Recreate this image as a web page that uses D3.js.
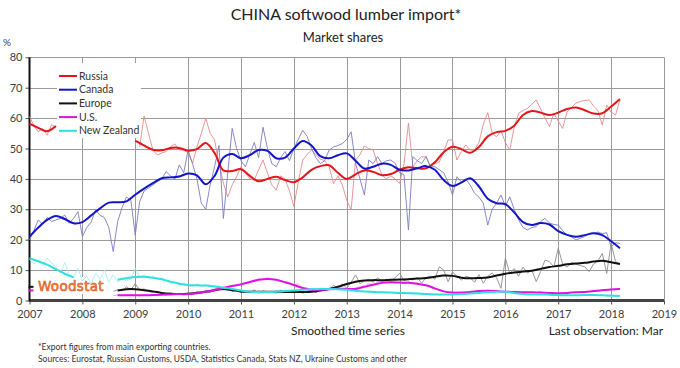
<!DOCTYPE html>
<html>
<head>
<meta charset="utf-8">
<script src="https://cdn.jsdelivr.net/npm/d3@7"></script>
<style>
  body { margin: 0; background: #fff; }
  svg { display: block; font-family: Lato, 'Open Sans', sans-serif; }
</style>
</head>
<body>
<svg width="680" height="368"></svg>
<script>
const _ = null;

const names = ['Russia', 'Canada', 'Europe', 'U.S.', 'New Zealand'];
const xTicks = [2007, 2008, 2009, 2010, 2011, 2012, 2013, 2014, 2015, 2016, 2017, 2018, 2019];
const yTicks = [0, 10, 20, 30, 40, 50, 60, 70, 80];

// smoothed series, one value every 2 months from Jan 2007 to Mar 2018
const russiaSmooth = [
  58.2, 56.8, 55.7, 57.4, _, _,
  _, _, _, _, _, _,
  52.6, 51.0, 49.6, 49.4, 50.2, 50.2,
  49.3, 49.8, 51.8, 48.5, 42.8, 42.6,
  43.2, 41.0, 39.2, 40.0, 40.7, 39.6,
  38.9, 40.5, 43.0, 44.2, 44.5, 42.0,
  40.0, 41.5, 42.8, 42.3, 41.2, 41.6,
  43.0, 43.8, 43.5, 43.5, 45.5, 48.8,
  50.6, 49.8, 48.6, 50.5, 54.0, 55.4,
  55.8, 57.5, 61.0, 62.3, 61.8, 61.0,
  61.8, 63.0, 63.5, 62.6, 61.5, 61.6,
  63.8, 66.3
];
const canadaSmooth = [
  21.0, 24.0, 26.5, 27.8, 26.8, 25.4,
  25.8, 28.0, 30.3, 32.2, 32.3, 32.6,
  34.8, 36.8, 38.6, 40.2, 40.5, 40.8,
  41.8, 41.2, 38.2, 41.0, 47.0, 48.2,
  46.8, 47.8, 49.5, 49.2, 46.8, 47.0,
  50.0, 52.5, 51.0, 47.5, 46.8, 47.8,
  48.4, 46.0, 43.4, 44.0, 45.0, 44.6,
  43.0, 42.8, 43.5, 44.2, 43.0, 39.6,
  37.7, 38.8, 40.2, 37.5, 33.5, 32.0,
  31.7, 29.0, 25.8, 24.8, 25.5, 25.0,
  22.8, 21.6, 21.0, 21.5, 22.1, 21.5,
  19.5, 17.2
];
const europeSmooth = [
  4.5, _, _, _, _, _,
  _, _, _, _, 3.3, 3.7,
  3.7, 3.4, 3.0, 2.5, 2.2, 2.1,
  2.2, 2.5, 2.9, 3.4, 3.8, 3.4,
  3.0, 2.9, 2.9, 2.9, 2.9, 2.8,
  2.8, 2.8, 2.9, 3.3, 3.8, 4.5,
  5.4, 6.2, 6.6, 6.7, 6.7, 6.8,
  6.9, 7.0, 7.2, 7.4, 7.8, 8.2,
  8.1, 7.5, 7.3, 7.4, 7.6, 8.2,
  8.8, 9.2, 9.5, 9.8, 10.4, 11.0,
  11.4, 11.9, 12.2, 12.4, 12.8, 13.1,
  12.6, 12.0
];
const usSmooth = [
  3.3, _, _, _, _, _,
  _, _, _, _, 1.7, 1.7,
  1.7, 1.7, 1.8, 1.9, 2.0, 2.1,
  2.1, 2.4, 2.9, 3.4, 4.1, 4.8,
  5.3, 6.1, 6.8, 7.1, 6.8, 6.0,
  5.1, 4.1, 3.5, 3.5, 3.7, 3.9,
  3.8, 3.8, 4.5, 5.2, 5.8, 6.0,
  5.9, 5.8, 5.5, 5.0, 4.0, 3.0,
  2.6, 2.6, 2.8, 3.1, 3.2, 3.1,
  2.9, 2.8, 2.7, 2.7, 2.6, 2.5,
  2.4, 2.5, 2.7, 2.8, 3.1, 3.4,
  3.6, 3.8
];
const nzSmooth = [
  13.9, 12.9, 11.8, 10.3, 8.8, 7.6,
  _, _, _, _, 6.8, 7.3,
  7.7, 7.8, 7.5, 7.0, 6.2, 5.5,
  5.1, 5.0, 4.9, 4.6, 4.2, 3.8,
  3.3, 2.9, 2.8, 2.8, 2.9, 3.1,
  3.3, 3.5, 3.7, 3.8, 3.8, 3.7,
  3.5, 3.2, 3.0, 2.8, 2.7, 2.6,
  2.5, 2.4, 2.3, 2.1, 2.0, 2.0,
  2.0, 2.1, 2.3, 2.5, 2.7, 2.9,
  2.9, 2.5, 2.1, 2.0, 2.0, 1.9,
  1.8, 1.7, 1.7, 1.8, 1.8, 1.7,
  1.6, 1.5
];

// monthly observations, Jan 2007 to Mar 2018
const russiaRaw = [
  60.5, 57.5, 55.5, 56.5, 54.4, 57.8, 57.0, _, _, _, _, _,
  _, _, _, _, _, _, _, _, _, _, _, _,
  _, 50.5, 60.7, 55, 49.5, 47.9, 48.5, 49, 50.6, 51.5, 49.5, 49.5,
  48.5, 45.1, 50.5, 55, 59.9, 55, 52.8, 45, 38.6, 34.1, 38, 40.7,
  44, 42, 40, 39.6, 43, 46.2, 42, 38, 36.3, 41, 40, 36,
  30.9, 39, 46.2, 48, 49.5, 48, 46.5, 46, 44, 38.5, 41, 38,
  33, 29.8, 46.2, 48, 50.8, 50, 49.5, 45, 41.3, 40, 41, 40,
  38.5, 45, 58.3, 44, 46, 47.3, 47.3, 44, 45, 45.5, 49, 52.8,
  52.8, 46.2, 49, 51.2, 49.5, 49.5, 52, 58, 61.8, 55, 53.9, 55.8,
  52, 49.5, 57, 61.6, 62.5, 63.2, 64.5, 66, 63, 60, 57.2, 61.6,
  59, 56.6, 62, 63.5, 64.9, 65.5, 65.8, 66, 64, 62.5, 57.7, 64.3,
  62, 61, 66
];
const canadaRaw = [
  19.9, 23, 26.5, 25, 27.3, 26, 26.5, 27, 28.1, 25.4, 27, 29.2,
  21, 24, 25.8, 29.8, 28, 27.3, 24, 16.1, 26, 30.5, 34.1, 33,
  21.5, 32.5, 36, 37, 38, 39.1, 40, 42.4, 41, 40, 44.6, 42,
  49.5, 45, 40, 32, 30, 38, 44, 51, 27, 42, 56.6, 50,
  46, 44, 48, 52, 47, 57, 50, 45, 44, 47, 49, 46,
  50, 53, 56, 54, 50, 47, 45, 46, 49.5, 50.5, 51, 51.6,
  53, 55.5, 45.1, 40, 34.7, 46.2, 45, 47.3, 45, 46, 46.2, 45.1,
  42, 41.3, 23.2, 47.3, 46, 45, 47.3, 44, 44, 43, 42, 39,
  34.7, 40.7, 39, 40, 38, 35.3, 34, 32, 24.8, 30, 32, 34.7,
  31, 34.1, 30, 26.5, 24, 23.2, 24, 24.3, 26, 27, 25.5, 25,
  24.8, 23, 21.5, 21, 19.9, 20.5, 21, 22, 22.1, 22.5, 22, 22.3,
  17.7, 19, 18.8
];
const europeRaw = [
  _, _, _, _, _, _, _, _, _, _, _, _,
  _, _, _, _, _, _, _, 3.0, 3.5, 3.2, 4.5, 3.5,
  5.5, 3.5, 3.8, 3.0, 2.6, 3.0, 2.2, 1.8, 2.5, 2.0, 2.4, 2.0,
  2.5, 2.0, 3.0, 2.6, 3.4, 2.5, 3.8, 4.8, 3.5, 4.2, 3.0, 3.6,
  2.5, 3.2, 2.6, 3.5, 2.4, 3.2, 2.8, 3.0, 2.4, 3.4, 2.6, 3.0,
  2.5, 3.2, 2.4, 3.0, 3.5, 2.6, 3.4, 4.0, 3.6, 5.0, 4.2, 5.5,
  4.0, 6.0, 8.4, 5.5, 6.5, 7.0, 6.0, 7.5, 6.2, 7.0, 6.4, 7.5,
  9.0, 6.5, 7.0, 6.8, 7.5, 5.7, 7.5, 8.0, 7.0, 11.1, 10.0, 6.2,
  9.4, 8.0, 6.7, 8.0, 7.5, 6.0, 8.5, 5.7, 8.0, 9.0, 7.5, 4.0,
  13.9, 9.0, 10.5, 8.0, 11.0, 9.0, 10.0, 6.2, 9.5, 13.3, 12.8, 11.0,
  17.2, 12.0, 11.0, 12.5, 12.0, 11.5, 11.1, 9.5, 12.0, 13.0, 15.5, 8.9,
  18.8, 12.8, 12.0
];
const usRaw = [
  _, _, _, _, _, _, _, _, _, _, _, _,
  _, _, _, _, _, _, _, 1.6, 1.8, 1.5, 1.9, 1.7,
  1.8, 1.5, 1.9, 1.7, 2.0, 1.6, 2.1, 1.8, 2.2, 1.9, 2.3, 2.0,
  2.2, 2.5, 2.2, 2.8, 3.2, 3.0, 3.6, 4.2, 3.8, 4.6, 5.0, 4.8,
  5.4, 5.8, 6.3, 6.5, 7.2, 6.8, 7.5, 7.0, 6.9, 6.5, 6.2, 5.8,
  5.0, 5.5, 4.0, 4.2, 3.4, 3.8, 3.2, 3.6, 3.9, 3.5, 4.2, 3.7,
  3.9, 3.4, 4.2, 4.5, 4.8, 5.5, 5.2, 6.0, 6.3, 5.8, 6.2, 5.7,
  6.0, 5.6, 6.2, 5.5, 5.8, 5.2, 4.9, 4.5, 3.8, 3.5, 3.0, 2.8,
  2.5, 2.8, 2.4, 2.9, 2.6, 3.0, 3.3, 3.0, 3.4, 3.1, 3.3, 2.9,
  3.0, 2.8, 3.1, 2.6, 2.9, 2.5, 2.8, 2.6, 2.9, 2.4, 2.6, 2.5,
  2.3, 2.6, 2.3, 2.7, 2.5, 2.9, 2.7, 3.0, 3.3, 3.0, 3.5, 3.2,
  3.8, 3.5, 4.0
];
const nzRaw = [
  13.5, 12.0, 13.3, 11.5, 14.0, 12.5, 11.0, 9.0, 12.5, 8.5, 7.5, 10.6,
  6.5, 8.0, 5.5, 9.0, 7.0, 10.0, 6.0, 8.5, 6.0, 7.5, 6.5, 7.0,
  10.7, 7.5, 8.5, 7.2, 8.0, 7.0, 7.5, 6.5, 5.5, 6.0, 5.0, 5.8,
  5.0, 4.6, 5.5, 4.8, 5.2, 4.5, 4.8, 3.8, 4.4, 3.5, 3.8, 3.2,
  3.5, 2.8, 3.2, 2.5, 3.0, 2.6, 3.0, 2.7, 3.2, 2.8, 3.4, 3.0,
  3.5, 3.2, 3.8, 3.4, 4.0, 3.6, 4.1, 3.7, 3.9, 3.5, 3.8, 3.4,
  3.6, 3.0, 3.3, 2.8, 3.1, 2.6, 2.9, 2.5, 2.8, 2.4, 2.7, 2.3,
  2.6, 2.2, 2.5, 2.1, 2.4, 2.0, 2.2, 1.9, 2.1, 1.8, 2.1, 1.9,
  2.2, 1.9, 2.3, 2.0, 2.5, 2.3, 2.8, 2.6, 3.0, 2.7, 3.1, 2.8,
  3.0, 2.6, 2.4, 2.0, 2.2, 1.8, 2.1, 1.9, 2.0, 1.8, 2.0, 1.7,
  1.9, 1.6, 1.8, 1.5, 1.9, 1.6, 1.9, 1.7, 1.8, 1.6, 1.8, 1.5,
  1.6, 1.4, 1.5
];

const smoothColors = ['#e3161b', '#1515c8', '#111111', '#e010e0', '#2ee0e0'];
const rawColors = ['#e58a8a', '#7c7cc4', '#8c8c8c', '#f29af2', '#a6eeee'];

const smoothData = [russiaSmooth, canadaSmooth, europeSmooth, usSmooth, nzSmooth];
const rawData = [russiaRaw, canadaRaw, europeRaw, usRaw, nzRaw];

const svg = d3.select('svg');
const x = d3.scaleLinear().domain([2007, 2019]).range([29.5, 664]);
const y = d3.scaleLinear().domain([0, 80]).range([300.5, 57.3]);
const crisp = v => Math.round(v) + 0.5;

// grid
const grid = svg.append('g').attr('stroke', '#9a9a9a').attr('stroke-width', 1);
grid.selectAll('.h').data(yTicks.slice(1)).join('line')
  .attr('x1', x(2007)).attr('x2', x(2019))
  .attr('y1', d => crisp(y(d))).attr('y2', d => crisp(y(d)));
grid.selectAll('.v').data(xTicks.slice(1)).join('line')
  .attr('y1', y(80)).attr('y2', y(0))
  .attr('x1', d => crisp(x(d))).attr('x2', d => crisp(x(d)));

// axes
const yAxis = svg.append('g')
  .attr('transform', `translate(${x(2007)},0)`)
  .call(d3.axisLeft(y).tickValues(yTicks).tickSize(4).tickPadding(3));
const xAxis = svg.append('g')
  .attr('transform', `translate(0,${y(0)})`)
  .call(d3.axisBottom(x).tickValues(xTicks).tickFormat(d3.format('d')).tickSize(4).tickPadding(6));
[yAxis, xAxis].forEach(a => {
  a.select('.domain').remove();
  a.selectAll('text').attr('font-size', 11).attr('fill', '#404040')
    .attr('font-family', 'Lato, sans-serif');
  a.selectAll('.tick line').attr('stroke', '#555');
});

svg.append('line')
  .attr('x1', x(2007)).attr('x2', x(2019)).attr('y1', y(0)).attr('y2', y(0))
  .attr('stroke', '#444').attr('stroke-width', 3);
svg.append('line')
  .attr('x1', x(2007)).attr('x2', x(2007)).attr('y1', y(80)).attr('y2', y(0) + 1)
  .attr('stroke', '#111').attr('stroke-width', 2);

// legend box sits over the grid
svg.append('rect')
  .attr('x', 57).attr('y', 63).attr('width', 84).attr('height', 75).attr('fill', '#fff');

// logo
svg.append('rect')
  .attr('x', 36).attr('y', 277).attr('width', 76).attr('height', 17).attr('fill', '#fff');
svg.append('text')
  .attr('x', 38).attr('y', 291)
  .attr('font-family', 'Verdana, DejaVu Sans, sans-serif')
  .attr('font-size', 13.5)
  .attr('fill', '#f4874b').attr('stroke', '#e0581c').attr('stroke-width', 0.6)
  .attr('letter-spacing', 0.3)
  .text('Woodstat');

const rawLine = d3.line()
  .defined(d => d != null)
  .x((d, i) => x(2007 + i / 12))
  .y(d => y(d));

const smoothLine = d3.line()
  .defined(d => d != null)
  .x((d, i) => x(2007 + i / 6))
  .y(d => y(d))
  .curve(d3.curveCatmullRom.alpha(0.5));

const plot = svg.append('g');

rawData.forEach((arr, i) => {
  plot.append('path')
    .attr('d', rawLine(arr))
    .attr('fill', 'none')
    .attr('stroke', rawColors[i])
    .attr('stroke-width', 0.9);
});

smoothData.forEach((arr, i) => {
  plot.append('path')
    .attr('d', smoothLine(arr))
    .attr('fill', 'none')
    .attr('stroke', smoothColors[i])
    .attr('stroke-width', 2);
  // single isolated values get a short stub
  arr.forEach((v, k) => {
    if (v == null || arr[k - 1] != null || arr[k + 1] != null) return;
    plot.append('line')
      .attr('x1', x(2007 + k / 6) - 1).attr('x2', x(2007 + k / 6) + 4)
      .attr('y1', y(v)).attr('y2', y(v))
      .attr('stroke', smoothColors[i]).attr('stroke-width', 2);
  });
});

// legend
const legend = svg.append('g').attr('transform', 'translate(59,76)');
const items = legend.selectAll('g').data(names).join('g')
  .attr('transform', (d, i) => `translate(0,${i * 13.7})`);
items.append('line')
  .attr('x1', 0).attr('x2', 18)
  .attr('stroke', (d, i) => smoothColors[i]).attr('stroke-width', 2);
items.append('text')
  .attr('x', 20).attr('dy', '0.35em')
  .attr('font-size', 10.5).attr('fill', '#333')
  .text(d => d);

// titles and notes
svg.append('text').attr('x', 346).attr('y', 20).attr('text-anchor', 'middle')
  .attr('font-size', 16).attr('fill', '#222').text('CHINA softwood lumber import*');
svg.append('text').attr('x', 343).attr('y', 42).attr('text-anchor', 'middle')
  .attr('font-size', 13).attr('fill', '#222').text('Market shares');
svg.append('text').attr('x', 3).attr('y', 46)
  .attr('font-size', 10).attr('fill', '#444').text('%');
svg.append('text').attr('x', 348).attr('y', 335).attr('text-anchor', 'middle')
  .attr('font-size', 12).attr('fill', '#222').text('Smoothed time series');
svg.append('text').attr('x', 663).attr('y', 335).attr('text-anchor', 'end')
  .attr('font-size', 12).attr('fill', '#222').text('Last observation: Mar');
svg.append('text').attr('x', 38).attr('y', 350)
  .attr('font-size', 8.5).attr('fill', '#333').text('*Export figures from main exporting countries.');
svg.append('text').attr('x', 38).attr('y', 362)
  .attr('font-size', 8.5).attr('fill', '#333')
  .text('Sources: Eurostat, Russian Customs, USDA, Statistics Canada, Stats NZ, Ukraine Customs and other');
</script>
</body>
</html>
